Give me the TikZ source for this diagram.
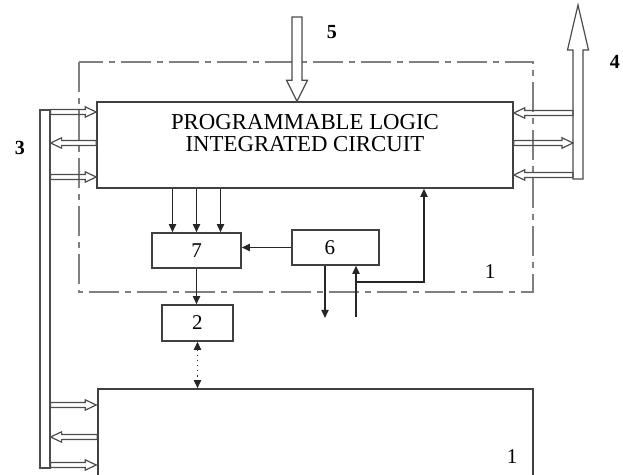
\documentclass[tikz,border=0pt]{standalone}
\usepackage{fontspec}
\setmainfont{Liberation Serif}
\usetikzlibrary{calc,arrows.meta}
\def\hollowarrow[#1][#2:#3:#4](#5)(#6){%
	\coordinate (ha) at (#5);
	\coordinate (hb) at (#6);
	\coordinate (hc) at ($(hb)!#4!(ha)$);
	\draw[hollow,#1] ($(ha)!#2!90:(hb)$) -- ($(hc)!#2!90:(hb)$) -- ($(hc)!#3!90:(hb)$) -- (hb) -- ($(hc)!#3!-90:(hb)$) -- ($(hc)!#2!-90:(hb)$) -- ($(ha)!#2!-90:(hb)$) -- cycle;}

\begin{document}
\begin{tikzpicture}[x=0.5pt, y=-0.5pt,
	box/.style={draw=black!75, line width=0.8pt, rectangle, inner sep=0pt},
	hollow/.style={draw=black!70, line width=0.6pt, line join=miter},
	frame/.style={draw=black!50, line width=1pt, dash pattern=on 15pt off 3pt on 3pt off 3pt},
	arr/.style={draw=black!85, line width=0.6pt, -{Triangle[length=4pt,width=3.6pt]}},
	num/.style={font=\fontsize{10.5}{12}\selectfont},
	bnum/.style={font=\bfseries\fontsize{10}{12}\selectfont}]
		%%%%% START %%%%%
		\useasboundingbox (0,0) rectangle (623,475);
		
		\draw[frame] (79,62) rectangle (533,292);
		\node[num] (lbl1a) at (490,272) {1};
		
		\node[box, minimum width=208pt, minimum height=43pt] (plic) at (305,145) {};
		\node[font=\fontsize{11.4}{11}\selectfont, align=center] (plictxt) at (305,133) {PROGRAMMABLE LOGIC\\INTEGRATED CIRCUIT};
		
		\node[box, num, minimum width=44.5pt, minimum height=17.5pt] (b7) at (196.5,250.5) {7};
		\node[box, num, minimum width=43.5pt, minimum height=17.5pt, text width=38pt] (b6) at (335.5,247.5) {\hspace{13.5pt}6};
		\node[box, num, minimum width=35.5pt, minimum height=18pt] (b2) at (197.5,323) {2};
		
		\node[box, minimum width=217.5pt, minimum height=50.5pt] (blk1) at (315.5,439.5) {};
		\node[num] (lbl1b) at (512,457) {1};
		
		\foreach \dx in {-12pt,0pt,12pt}
			\draw[arr] ([xshift=\dx]b7.north |- plic.south) -- ([xshift=\dx]b7.north);
		\draw[arr] (b6.west) -- (b6.west -| b7.east);
		\draw[arr] (b7.south) -- (b7.south |- b2.north);
		\draw[arr, dotted, {Triangle[length=4pt,width=3.6pt]}-{Triangle[length=4pt,width=3.6pt]}] (b2.south) -- (b2.south |- blk1.north);
		
		\coordinate (out6) at (325,318);
		\coordinate (in6) at (356,317);
		\coordinate (tap) at (356,282);
		\draw[arr] (b6.south -| out6) -- (out6);
		\draw[arr] (in6) -- (in6 |- b6.south);
		\draw[arr] (tap) -| ([xshift=59.5pt]plic.south);
		
		% bus 3
		\node[hollow, draw, minimum width=5pt, minimum height=179pt, inner sep=0pt] (bus3) at (45,289) {};
		\node[bnum] (lbl3) at (20,148) {3};
		\foreach \y in {112,177,405,465}
			\hollowarrow[][1.25pt:2.6pt:5.5pt](bus3.east |- 0,\y)(plic.west |- 0,\y);
		\hollowarrow[][1.25pt:2.6pt:5.5pt](plic.west |- 0,143)(bus3.east |- 0,143);
		\hollowarrow[][1.25pt:2.6pt:5.5pt](blk1.west |- 0,437)(bus3.east |- 0,437);
		
		% bus 4
		\coordinate (bus4) at (573,179);
		\hollowarrow[][2.5pt:5.25pt:22.5pt](578,179)(578,5);
		\node[bnum] (lbl4) at (615,62) {4};
		\foreach \y in {113,175}
			\hollowarrow[][1.25pt:2.6pt:5.5pt](bus4 |- 0,\y)(plic.east |- 0,\y);
		\hollowarrow[][1.25pt:2.6pt:5.5pt](plic.east |- 0,143)(bus4 |- 0,143);
		
		% input 5
		\hollowarrow[fill=white][2.5pt:5.25pt:10.5pt](297,17)(plic.north -| 297,0);
		\node[bnum] (lbl5) at (332,32) {5};
		%%%%% END %%%%%
\end{tikzpicture}
\end{document}
